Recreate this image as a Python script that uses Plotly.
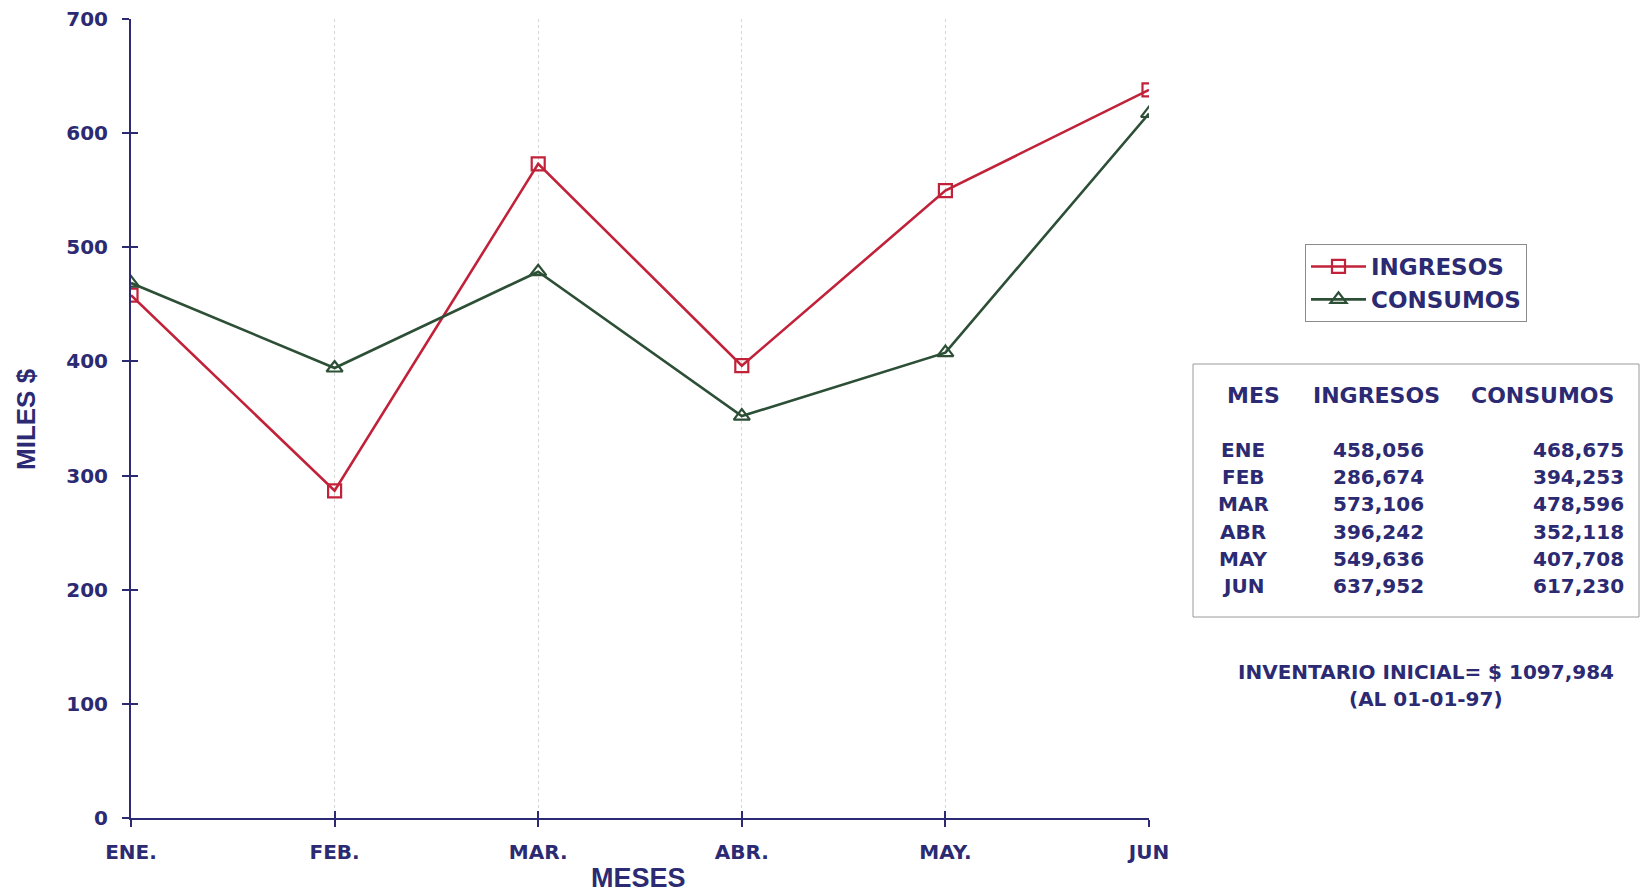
import plotly.graph_objects as go

# Monthly figures, in thousands of dollars
meses = ["ENE.", "FEB.", "MAR.", "ABR.", "MAY.", "JUN"]
meses_tabla = ["ENE", "FEB", "MAR", "ABR", "MAY", "JUN"]
ingresos = [458.056, 286.674, 573.106, 396.242, 549.636, 637.952]
consumos = [468.675, 394.253, 478.596, 352.118, 407.708, 617.230]
y_ticks = [0, 100, 200, 300, 400, 500, 600, 700]
inventario_inicial = "1097,984"
fecha_inventario = "01-01-97"

W, H = 1641, 895
L, R, T, B = 131, 492, 19, 77
PW, PH = W - L - R, H - T - B

NAVY = "#2b2a72"
RED = "#c1223a"
GREEN = "#2c4f36"
FONT = "DejaVu Sans"


def px(x):
    return (x - L) / PW


def py(y):
    return (H - B - y) / PH


def fmt(v):
    return f"{v:.3f}".replace(".", ",")


fig = go.Figure()
fig.add_trace(go.Scatter(
    x=list(range(len(meses))), y=ingresos, name="INGRESOS", mode="lines+markers",
    line=dict(color=RED, width=2.6),
    marker=dict(symbol="square-open", size=13, color=RED, line=dict(width=2.2)),
))
fig.add_trace(go.Scatter(
    x=list(range(len(meses))), y=consumos, name="CONSUMOS", mode="lines+markers",
    line=dict(color=GREEN, width=2.6),
    marker=dict(symbol="triangle-up-open", size=14, color=GREEN, line=dict(width=2.2)),
))

axis_font = dict(family=FONT, size=20, color=NAVY, weight="bold")

fig.update_layout(
    width=W, height=H,
    margin=dict(l=L, r=R, t=T, b=B),
    paper_bgcolor="white", plot_bgcolor="white",
    showlegend=True,
    legend=dict(
        x=px(1305), y=py(244), xanchor="left", yanchor="top",
        font=dict(family=FONT, size=23, color=NAVY, weight="bold"),
        bordercolor="#8a8a8a", borderwidth=1, bgcolor="white",
        itemwidth=55, tracegroupgap=0,
    ),
    xaxis=dict(
        range=[0, len(meses) - 1], tickmode="array",
        tickvals=list(range(len(meses))), ticktext=meses,
        showline=True, linecolor=NAVY, linewidth=2,
        ticks="outside", ticklen=7, tickwidth=2, tickcolor=NAVY,
        tickfont=axis_font, ticklabelstandoff=8, automargin=False,
        showgrid=True, gridcolor="#d6d6d6", griddash="dot", gridwidth=1,
        zeroline=False,
    ),
    yaxis=dict(
        range=[0, 700], tickmode="array", tickvals=y_ticks,
        showline=True, linecolor=NAVY, linewidth=2,
        ticks="outside", ticklen=7, tickwidth=2, tickcolor=NAVY,
        tickfont=axis_font, ticklabelstandoff=10, automargin=False,
        showgrid=False, zeroline=False,
    ),
    # inner half of the crossing tick marks
    xaxis2=dict(
        overlaying="x", range=[0, len(meses) - 1], tickmode="array",
        tickvals=list(range(len(meses))), showticklabels=False,
        ticks="inside", ticklen=7, tickwidth=2, tickcolor=NAVY,
        showgrid=False, zeroline=False, showline=False, automargin=False,
    ),
    yaxis2=dict(
        overlaying="y", range=[0, 700], tickmode="array", tickvals=y_ticks,
        showticklabels=False, ticks="inside", ticklen=7, tickwidth=2,
        tickcolor=NAVY, showgrid=False, zeroline=False, showline=False,
        automargin=False,
    ),
)

# invisible carrier so the overlay axes get drawn
fig.add_trace(go.Scatter(x=[0], y=[0], xaxis="x2", yaxis="y2", mode="markers",
                         marker=dict(opacity=0), showlegend=False, hoverinfo="skip"))


def label(text, x, y, font, xanchor="center", **kw):
    return dict(x=px(x), y=py(y), xref="paper", yref="paper", text=text,
                showarrow=False, xanchor=xanchor, yanchor="middle", font=font, **kw)


ann = []
# axis titles
ann.append(label("MILES $", 26, 419,
                 dict(family="Liberation Sans", size=26, color=NAVY, weight="bold"),
                 textangle=-90))
ann.append(label("MESES", 638, 878,
                 dict(family="Liberation Sans", size=27, color=NAVY, weight="bold")))

# summary table
head_font = dict(family=FONT, size=22, color=NAVY, weight="bold")
body_font = dict(family=FONT, size=20, color=NAVY, weight="bold")
for text, xc in [("MES", 1253), ("INGRESOS", 1376), ("CONSUMOS", 1542)]:
    ann.append(label(text, xc, 395, head_font))
for i, (m, vi, vc) in enumerate(zip(meses_tabla, ingresos, consumos)):
    yy = 450 + i * 27.2
    ann.append(label(m, 1243, yy, body_font))
    ann.append(label(fmt(vi), 1378, yy, body_font))
    ann.append(label(fmt(vc), 1626, yy, body_font, xanchor="right"))

ann.append(label(f"INVENTARIO INICIAL= $ {inventario_inicial}", 1426, 672, body_font))
ann.append(label(f"(AL {fecha_inventario})", 1426, 699, body_font))
fig.update_layout(annotations=ann)

fig.add_shape(type="rect", xref="paper", yref="paper",
              x0=px(1193), x1=px(1639), y0=py(617), y1=py(364),
              line=dict(color="#9a9a9a", width=1))

fig.write_html("out.html")
